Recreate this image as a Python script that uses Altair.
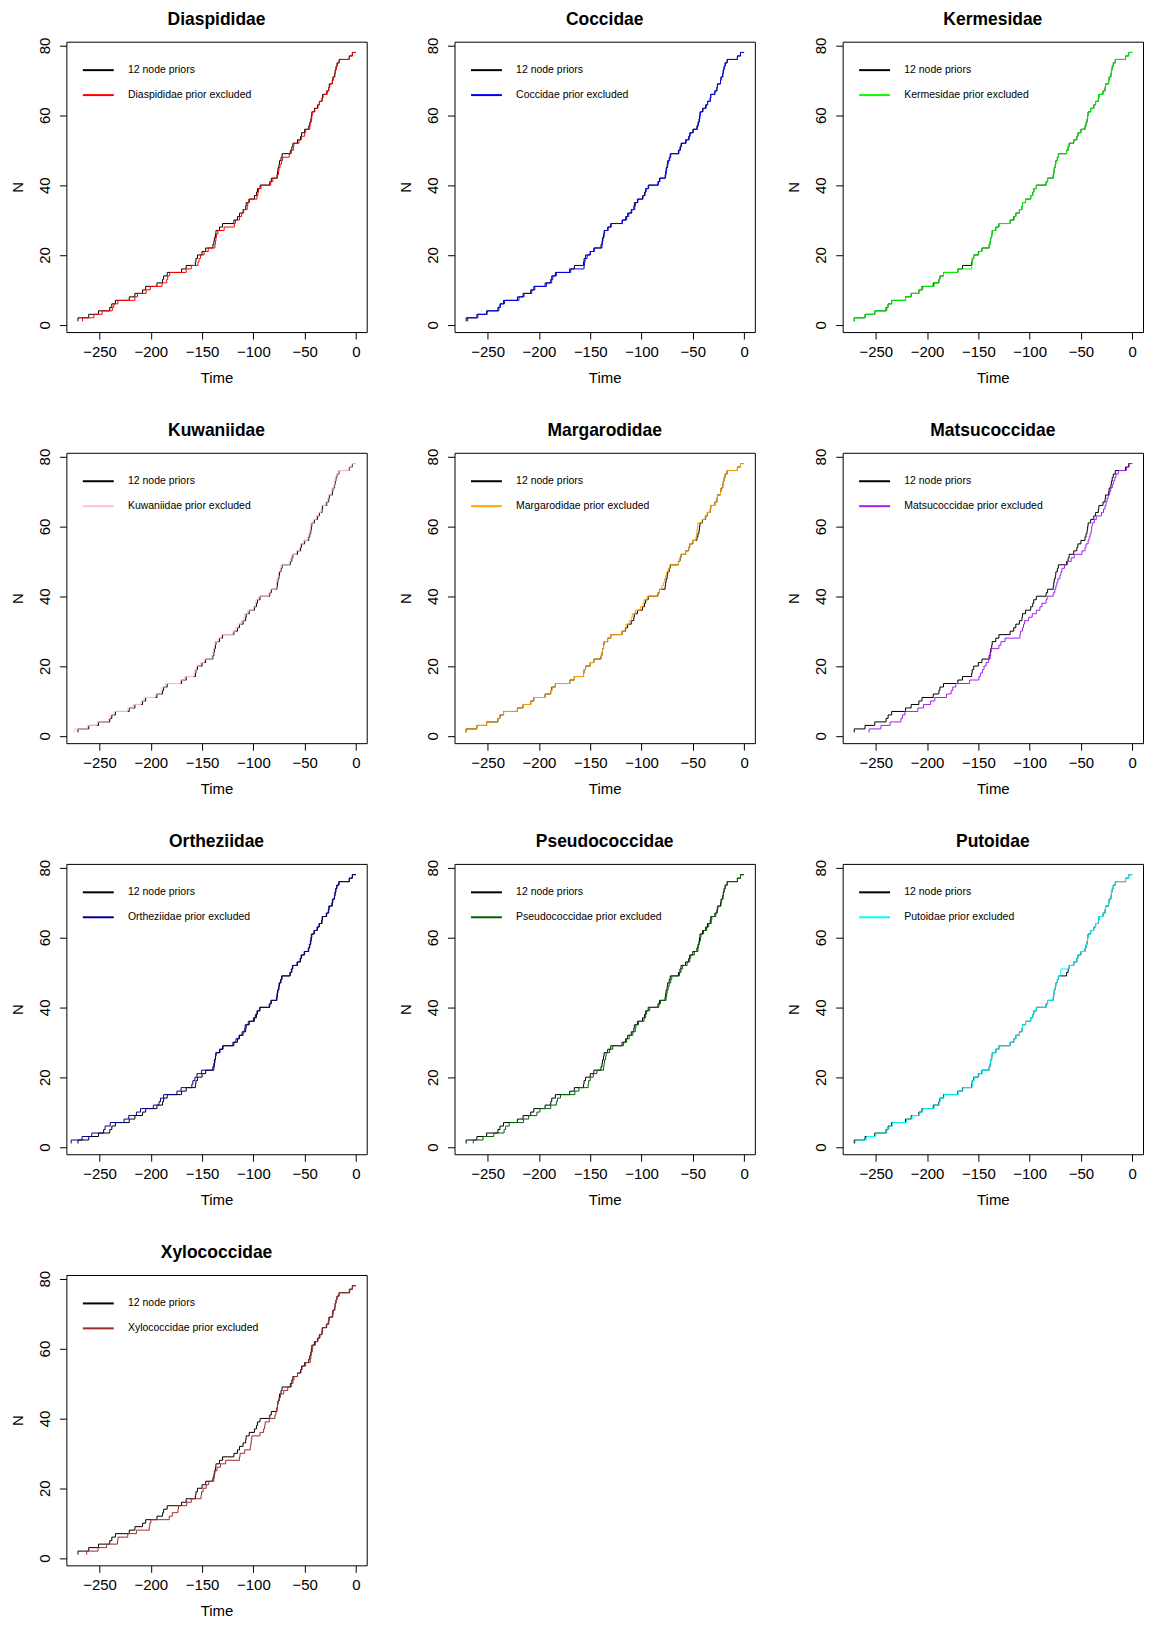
import altair as alt
import pandas as pd

families = ["Diaspididae", "Coccidae", "Kermesidae", "Kuwaniidae", "Margarodidae",
            "Matsucoccidae", "Ortheziidae", "Pseudococcidae", "Putoidae", "Xylococcidae"]
colors = ["#FF0000", "#0000FF", "#00FF00", "#FFC0CB", "#FFA500",
          "#A020F0", "#00008B", "#006400", "#00FFFF", "#A52A2A"]

x_ticks = [-250, -200, -150, -100, -50, 0]
y_ticks = [0, 20, 40, 60, 80]

# number of lineages after each branching event
n_lineages = [2, 3, 4, 5, 6, 7, 8, 9, 10, 11,
              12, 13, 14, 15, 16, 17, 18, 19, 20, 21,
              22, 23, 24, 25, 26, 27, 28, 29, 30, 31,
              32, 33, 34, 35, 36, 37, 38, 39, 40, 41,
              42, 43, 44, 45, 46, 47, 48, 49, 50, 51,
              52, 53, 54, 55, 56, 57, 58, 59, 60, 61,
              62, 63, 64, 65, 66, 67, 68, 69, 70, 71,
              72, 73, 74, 75, 76, 77, 78]

t_12_node = [-271, -260.5, -251, -240, -238, -234.5, -221, -215.5, -208, -205,
             -194, -188.5, -187.5, -184, -170, -165.5, -156.5, -156, -154.5, -150,
             -146.5, -139.5, -138.5, -138, -137, -136.5, -133, -130, -119, -115.5,
             -113.5, -110, -107.5, -107, -104, -99, -97, -96, -93.5, -84,
             -82.5, -77, -76.5, -76, -75, -74.5, -73, -72, -64, -62.5,
             -61.5, -57, -54, -53, -50, -46, -45, -44, -43.5, -43,
             -40.5, -37.5, -35.7, -33, -32.5, -28.5, -26.5, -26, -23, -22.5,
             -20.8, -20.3, -19.5, -18.5, -16.5, -6.5, -3.5]

t_diaspididae = [-266.5, -255.5, -247.5, -237.5, -236, -232, -215.5, -213, -204.5, -200.5,
                 -189, -184.5, -183.5, -181.5, -165.5, -160.5, -154, -153, -151.5, -148,
                 -144, -137.5, -137, -136.5, -136, -134.5, -128.5, -118.5, -117.5, -113.5,
                 -111.5, -109.5, -106, -105.5, -104.5, -96.5, -95.5, -95, -92.5, -83,
                 -81, -76.5, -75.5, -75, -74, -72.5, -71.5, -65, -63, -61,
                 -60.5, -55.5, -53, -50, -49, -45, -44.5, -43.5, -43, -42.5,
                 -40, -37, -35.5, -33, -32, -28, -26.5, -25.5, -23, -22,
                 -20.5, -20, -19, -18, -16, -6.5, -3.5]

t_coccidae = [-269.5, -259.5, -250.5, -239, -237.5, -233.5, -219.5, -214.5, -207, -204,
              -192.5, -187.5, -186.5, -183, -169, -156, -155.5, -155, -153, -150,
              -146, -138.5, -138, -137.5, -136.5, -136, -132.5, -129.5, -118.5, -114.5,
              -112.5, -109.5, -106.5, -106, -103.5, -98.5, -96.5, -95.5, -93, -83.5,
              -82, -76.5, -76, -75.5, -74.5, -74, -72.5, -71.5, -63.5, -62,
              -61, -56.5, -53.5, -52.5, -49.5, -45.5, -44.5, -43.5, -43, -42.5,
              -40, -37, -35.5, -33, -32.5, -28.5, -26.5, -26, -23, -22.5,
              -20.8, -20.3, -19.5, -18.5, -16.5, -6.5, -3.5]

t_kermesidae = [-271, -260.5, -251, -239, -238, -234.5, -221, -215.5, -208, -204,
                -193, -188.5, -187.5, -184, -170, -156.5, -156, -155.5, -154.5, -149.5,
                -146.5, -139, -138.5, -138, -137, -136.5, -133, -130, -119, -115,
                -113.5, -110, -107.5, -107, -104, -99, -97, -96, -93.5, -83.5,
                -82.5, -77, -76.5, -76, -75, -74.5, -73, -72, -64, -62.5,
                -61.5, -57, -54, -53, -50, -46, -45, -44, -43.5, -43,
                -40.5, -37.5, -35.7, -33, -32.5, -28.5, -26.5, -26, -23, -22.5,
                -20.8, -20.3, -19.5, -18.5, -16.5, -6.5, -3.5]

t_kuwaniidae = [-274.5, -262, -252.5, -241.5, -239.5, -236, -222.5, -217, -209.5, -206.5,
                -195.5, -190, -189, -185.5, -171, -167, -158, -157, -155.5, -151.5,
                -148, -140.5, -139.5, -139, -138, -137.5, -134.5, -131, -120, -117,
                -115, -111.5, -109, -108.5, -105.5, -100, -98.5, -97.5, -95, -85,
                -83.5, -78, -77.5, -77, -76, -75.5, -74, -73, -65, -63.5,
                -62.5, -58, -55, -54, -51, -47, -46, -45, -44.5, -44,
                -41.5, -38.5, -36.5, -34, -33.5, -29.5, -27.5, -27, -24, -23.5,
                -21.5, -21, -20.3, -19.3, -17.3, -7, -4]

t_margarodidae = [-271, -260.5, -251, -240, -238.5, -234.5, -221, -215.5, -208, -205,
                  -194, -188.5, -187, -184, -170, -165.5, -156.5, -156, -154.5, -150,
                  -146.5, -139.5, -138.5, -138, -137, -136.5, -133, -130, -119, -116,
                  -115, -112, -110, -109, -106, -101, -98.5, -97.5, -94.5, -84,
                  -82.5, -80, -78.5, -77.5, -76.5, -75.5, -74, -72.5, -64, -63,
                  -61.5, -57, -54, -53, -50.5, -47, -46.5, -46, -45.5, -45,
                  -41, -38, -36, -33, -32.5, -28.5, -26.5, -26, -23, -22.5,
                  -20.8, -20.3, -19.5, -18.5, -16.5, -6.5, -3.5]

t_matsucoccidae = [-256.5, -245, -236, -225.5, -224, -221.5, -209, -203.5, -196.5, -192.5,
                   -181, -176.5, -175, -172, -158.5, -149.5, -148, -146, -144.5, -142.5,
                   -140, -138.5, -138, -137.5, -130, -128, -124, -109.5, -109, -107,
                   -106, -105, -101, -97.5, -93.5, -90, -88, -84, -83, -77,
                   -75.5, -74.5, -73.5, -72.5, -70.5, -69.5, -68.5, -66, -63, -59.5,
                   -56.5, -49, -46, -45, -43, -42, -41, -40, -39.5, -39,
                   -37, -35, -30, -28, -26.5, -25.5, -24.5, -23.5, -22, -21,
                   -19.5, -18.5, -17, -16, -13.5, -5.5, -3]

t_ortheziidae = [-277.6, -267, -257.5, -246, -244.5, -239.5, -226, -221.5, -214, -210,
                 -197.5, -192, -190.5, -187.5, -174.5, -170.5, -160, -159, -157, -155,
                 -150.5, -138.5, -138, -137.5, -137, -136.5, -132.5, -129.5, -120, -117,
                 -114, -111, -108.5, -108, -105, -100, -98, -96.5, -94, -84.5,
                 -83, -77.5, -77, -76.5, -75.5, -75, -73.5, -72.5, -64.5, -63,
                 -62, -57.5, -54.5, -53.5, -50.5, -46.5, -45.5, -44.5, -44, -43.5,
                 -41, -38, -36, -33.5, -33, -29, -27, -26.5, -23.5, -23,
                 -21, -20.5, -19.8, -18.8, -16.8, -6.5, -3.5]

t_pseudococcidae = [-264, -254.5, -244, -234, -232.5, -229, -215, -210, -202, -199,
                    -188.5, -183, -182, -179, -165, -161, -152, -151.5, -150, -147,
                    -143.5, -137, -136.5, -136, -135, -134.5, -131, -128, -117.5, -114.5,
                    -112, -108.5, -106, -105.5, -103, -97.5, -96, -95, -92, -83,
                    -81.5, -76, -75.5, -75, -74, -73, -71.5, -70.5, -63, -61.5,
                    -60, -55.5, -53, -52, -48.5, -45, -44.5, -43.5, -42.5, -42,
                    -39.5, -36.5, -34.5, -32, -31.5, -27.5, -26, -25.5, -22.5, -22,
                    -20.5, -20, -19.3, -18.3, -16.3, -6.5, -3.5]

t_putoidae = [-269.5, -259, -250, -239, -237, -233.5, -220, -214.5, -207, -204,
              -193, -188, -187, -183.5, -169.5, -165, -156, -155.5, -154, -149.5,
              -146, -139, -138.5, -138, -137, -136.5, -133, -130, -119, -115.5,
              -113.5, -110, -107.5, -107, -104, -99, -97, -96, -93.5, -84,
              -82.5, -77, -76.5, -76, -75, -74.5, -73, -72, -70, -69.5,
              -61.5, -57, -54, -53, -50, -46, -45, -44, -43.5, -43,
              -40.5, -37.5, -35.7, -33, -32.5, -28.5, -26.5, -26, -23, -22.5,
              -20.8, -20.3, -19.5, -18.5, -16.5, -6.5, -3.5]

t_xylococcidae = [-262.5, -251.5, -243, -232.5, -232, -222.5, -214, -201.5, -201, -200,
                  -182, -179, -173.5, -173, -165, -160.5, -151, -150.5, -149, -146,
                  -143.5, -138.5, -138, -137.5, -135.5, -132, -127, -113.5, -113, -108.5,
                  -103, -102.5, -102, -101.5, -93.5, -90, -89, -88.5, -84.5, -79,
                  -78, -77.5, -76.5, -76, -74.5, -73.5, -70.5, -66.5, -63, -61.5,
                  -60.5, -57, -53.5, -52.5, -49, -44.5, -44, -43.5, -42.5, -42,
                  -39.5, -37, -35, -33.5, -33, -29, -27, -26.5, -22.5, -22,
                  -20.5, -20, -19.3, -18.5, -16.5, -6, -3.5]

excluded_times = [t_diaspididae, t_coccidae, t_kermesidae, t_kuwaniidae, t_margarodidae,
                  t_matsucoccidae, t_ortheziidae, t_pseudococcidae, t_putoidae, t_xylococcidae]

FONT = "Liberation Sans"
PW, PH = 301, 291


def step_table(times):
    ts = [times[0]] + list(times) + [0]
    ns = [1] + list(n_lineages[:len(times)]) + [n_lineages[len(times) - 1]]
    return pd.DataFrame({"t": ts, "n": ns, "i": list(range(len(ts)))})


def panel(fam, color, times):
    xenc = alt.X("t:Q",
                 scale=alt.Scale(domain=[-282.3, 10.5], nice=False, zero=False),
                 axis=alt.Axis(values=x_ticks, title="Time", format="d"))
    yenc = alt.Y("n:Q",
                 scale=alt.Scale(domain=[-2.08, 81.08], nice=False, zero=False),
                 axis=alt.Axis(values=y_ticks, title="N", format="d"))
    base = alt.Chart(step_table(t_12_node)).mark_line(
        color="black", strokeWidth=1, interpolate="step-after").encode(
        x=xenc, y=yenc, order="i:Q")
    excl = alt.Chart(step_table(times)).mark_line(
        color=color, strokeWidth=1, interpolate="step-after").encode(
        x=xenc, y=yenc, order="i:Q")
    one = pd.DataFrame({"k": [0]})
    leg1 = alt.Chart(one).mark_rule(color="black", strokeWidth=2).encode(
        x=alt.value(16.5), x2=alt.value(47.5), y=alt.value(28.5))
    leg2 = alt.Chart(one).mark_rule(color=color, strokeWidth=2).encode(
        x=alt.value(16.5), x2=alt.value(47.5), y=alt.value(53.5))
    txt1 = alt.Chart(one).mark_text(align="left", baseline="middle", font=FONT,
                                    fontSize=10.5, color="black").encode(
        x=alt.value(61.7), y=alt.value(28.5), text=alt.value("12 node priors"))
    txt2 = alt.Chart(one).mark_text(align="left", baseline="middle", font=FONT,
                                    fontSize=10.5, color="black").encode(
        x=alt.value(61.7), y=alt.value(53.5), text=alt.value(f"{fam} prior excluded"))
    return alt.layer(base, excl, leg1, leg2, txt1, txt2).properties(
        width=PW, height=PH,
        title=alt.TitleParams(fam, font=FONT, fontSize=17.5, fontWeight="bold",
                              anchor="middle", frame="group", baseline="bottom",
                              offset=-9.5, color="black"))


panels = [panel(f, c, t) for f, c, t in zip(families, colors, excluded_times)]

chart = alt.concat(*panels, columns=3, spacing={"row": 121, "column": 88},
                   bounds="flush").properties(
    padding={"left": 1.5, "top": 0, "right": 0, "bottom": 0}
).configure_view(
    stroke="black", strokeWidth=1
).configure_axis(
    domain=False, grid=False, ticks=True, tickSize=7, tickColor="black", tickWidth=1,
    labelFont=FONT, labelFontSize=15, labelColor="black",
    titleFont=FONT, titleFontSize=15, titleFontWeight="normal", titleColor="black"
).configure_axisX(
    labelPadding=5, titleBaseline="alphabetic", titleY=50.6
).configure_axisY(
    labelAngle=270, labelAlign="center", labelBaseline="alphabetic", labelPadding=10,
    titleAngle=270, titleBaseline="alphabetic", titleX=-44
)

chart.save("out.html", embed_options={"renderer": "svg", "actions": False})
